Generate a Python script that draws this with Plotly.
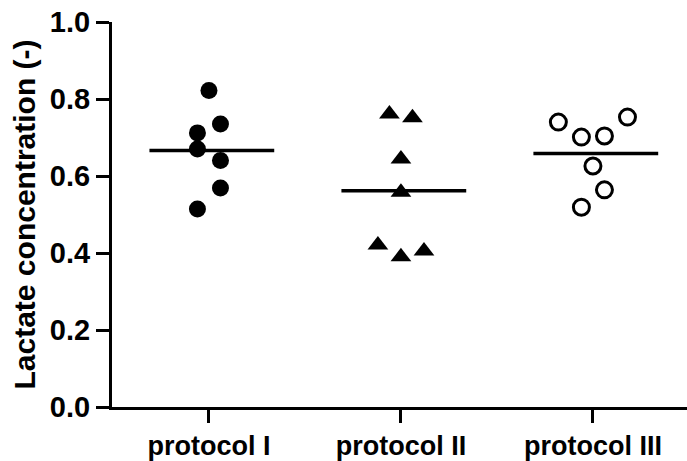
import plotly.graph_objects as go

categories = ["protocol I", "protocol II", "protocol III"]
protocol_1 = [0.822, 0.735, 0.712, 0.670, 0.640, 0.569, 0.514]
protocol_2 = [0.761, 0.751, 0.644, 0.558, 0.421, 0.390, 0.405]
protocol_3 = [0.740, 0.753, 0.701, 0.704, 0.626, 0.564, 0.519]
y_ticks = [0.0, 0.2, 0.4, 0.6, 0.8, 1.0]
y_tick_labels = ["0.0", "0.2", "0.4", "0.6", "0.8", "1.0"]

# horizontal slot of each point in the scatter (dot-plot layout)
slots = [
    [0, 1, -1, -1, 1, 1, -1],
    [-1, 1, 0, 0, -2, 0, 2],
    [-3, 3, -1, 1, 0, 1, -1],
]
step = 0.06

series = [protocol_1, protocol_2, protocol_3]
markers = [
    dict(symbol="circle", size=17, color="black"),
    dict(symbol="triangle-up", size=18, color="black"),
    dict(symbol="circle-open", size=16, color="black", line=dict(width=3, color="black")),
]

fig = go.Figure()
for i, vals in enumerate(series):
    xs = [i + s * step for s in slots[i]]
    fig.add_trace(go.Scatter(x=xs, y=vals, mode="markers", marker=markers[i],
                             showlegend=False, hoverinfo="y"))
    m = sum(vals) / len(vals)
    fig.add_trace(go.Scatter(x=[i - 0.31, i + 0.34], y=[m, m], mode="lines",
                             line=dict(color="black", width=3.5),
                             showlegend=False, hoverinfo="skip"))

font_family = "Liberation Sans, Arial, sans-serif"
fig.update_layout(
    width=687, height=461,
    margin=dict(l=112, r=0, t=22, b=54),
    paper_bgcolor="white", plot_bgcolor="white",
    font=dict(family=font_family, color="black"),
    xaxis=dict(
        range=[-0.505, 2.49],
        tickmode="array", tickvals=[0, 1, 2], ticktext=categories,
        showline=True, linecolor="black", linewidth=3,
        ticks="outside", ticklen=13, tickwidth=3, tickcolor="black",
        tickfont=dict(size=27, family=font_family, weight="bold"),
        showgrid=False, zeroline=False,
    ),
    yaxis=dict(
        range=[0, 1],
        tickmode="array", tickvals=y_ticks, ticktext=y_tick_labels,
        showline=True, linecolor="black", linewidth=3,
        ticks="outside", ticklen=13, tickwidth=3, tickcolor="black",
        tickfont=dict(size=29, family=font_family, weight="bold"),
        showgrid=False, zeroline=False,
        title=dict(text="Lactate concentration (-)", standoff=6,
                   font=dict(size=30, family=font_family, weight="bold")),
    ),
)

fig.write_html("out.html")
